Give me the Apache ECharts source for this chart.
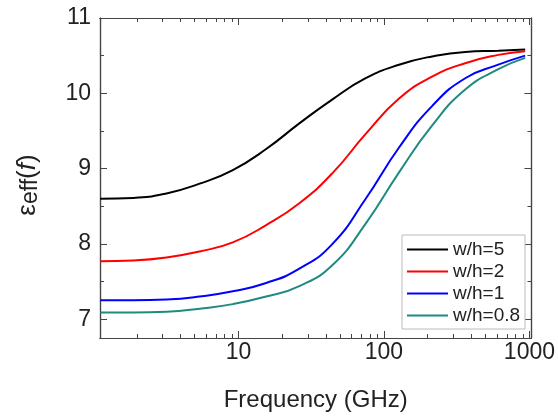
<!DOCTYPE html>
<html>
<head>
<meta charset="utf-8">
<script src="https://cdn.jsdelivr.net/npm/echarts@6/dist/echarts.min.js"></script>
<style>
  html, body { margin: 0; padding: 0; background: #fff; }
  #chart { width: 558px; height: 419px; }
</style>
</head>
<body>
<div id="chart"></div>
<script>
// frequency samples (GHz)
const freqGHz = [1.12, 1.89, 3.2, 5.41, 9.14, 15.5, 26.2, 44.3, 74.9, 127, 214, 362, 611, 935]

// effective permittivity for each w/h
const epsWh5 = [8.60, 8.61, 8.67, 8.80, 8.98, 9.26, 9.60, 9.92, 10.20, 10.38, 10.49, 10.55, 10.565, 10.58]
const epsWh2 = [7.77, 7.78, 7.82, 7.90, 8.02, 8.25, 8.54, 8.94, 9.46, 9.93, 10.22, 10.40, 10.51, 10.56]
const epsWh1 = [7.25, 7.25, 7.26, 7.30, 7.37, 7.48, 7.67, 8.00, 8.60, 9.28, 9.83, 10.20, 10.38, 10.50]
const epsWh08 = [7.09, 7.09, 7.10, 7.14, 7.20, 7.30, 7.44, 7.72, 8.27, 8.95, 9.57, 10.05, 10.32, 10.47]

const seriesNames = ['w/h=5', 'w/h=2', 'w/h=1', 'w/h=0.8']
const seriesColors = ['#000000', '#ff0000', '#0000ff', '#1f8a80']

// tick labels
const xTickLabels = [10, 100, 1000]
const yTickLabels = [7, 8, 9, 10, 11]
const yMinorTicks = [7.5, 8.5, 9.5, 10.5]

// log axis range (exponents)
const xMin = 0.048
const xMax = 3.014

const xMajor = xTickLabels.map(v => Math.log10(v))
const xMinor = []
for (let d = 0; d < 3; d++) {
  for (let k = 2; k <= 9; k++) {
    const v = Math.log10(k * Math.pow(10, d))
    if (v > xMin && v < xMax) xMinor.push(v)
  }
}

const lineColor = '#444'
const textColor = '#222'
const fontFamily = 'Liberation Sans, Arial, sans-serif'

function xAxisDef(pos, ticks, len, labels) {
  return {
    type: 'value',
    position: pos,
    min: xMin,
    max: xMax,
    axisLine: { show: true, onZero: false, lineStyle: { color: lineColor, width: 1.2 } },
    axisTick: { show: true, inside: true, length: len, customValues: ticks, lineStyle: { color: lineColor } },
    axisLabel: labels
      ? {
          show: true,
          customValues: xMajor,
          margin: 3,
          color: textColor,
          fontSize: 23,
          fontFamily: fontFamily,
          formatter: v => String(Math.round(Math.pow(10, v)))
        }
      : { show: false },
    splitLine: { show: false }
  }
}

function yAxisDef(pos, ticks, len, labels) {
  return {
    type: 'value',
    position: pos,
    min: 6.75,
    max: 11,
    axisLine: { show: true, onZero: false, lineStyle: { color: lineColor, width: 1.2 } },
    axisTick: { show: true, inside: true, length: len, customValues: ticks, lineStyle: { color: lineColor } },
    axisLabel: labels
      ? {
          show: true,
          customValues: yTickLabels,
          margin: 9,
          color: textColor,
          fontSize: 23,
          fontFamily: fontFamily
        }
      : { show: false },
    splitLine: { show: false }
  }
}

const xAxes = [
  xAxisDef('bottom', xMajor, 7, true),
  xAxisDef('bottom', xMinor, 4, false),
  xAxisDef('top', xMajor, 7, false),
  xAxisDef('top', xMinor, 4, false)
]
xAxes[0].name = 'Frequency (GHz)'
xAxes[0].nameLocation = 'middle'
xAxes[0].nameGap = 50
xAxes[0].nameTextStyle = { color: textColor, fontSize: 24, fontFamily: fontFamily }

const yAxes = [
  yAxisDef('left', yTickLabels, 7, true),
  yAxisDef('left', yMinorTicks, 4, false),
  yAxisDef('right', yTickLabels, 7, false),
  yAxisDef('right', yMinorTicks, 4, false)
]
yAxes[0].name = '{e|ε}{s|eff}{p|(}{i|f}{p|)}'
yAxes[0].nameLocation = 'middle'
yAxes[0].nameGap = 58
yAxes[0].nameRotate = 90
yAxes[0].nameTextStyle = {
  color: textColor,
  fontFamily: fontFamily,
  padding: [0, 14, 0, 0],
  rich: {
    e: { fontSize: 26, color: textColor, fontFamily: fontFamily },
    s: { fontSize: 23, color: textColor, fontFamily: fontFamily, padding: [5, 0, 0, 0] },
    p: { fontSize: 26, color: textColor, fontFamily: fontFamily },
    i: { fontSize: 26, color: textColor, fontFamily: fontFamily, fontStyle: 'italic' }
  }
}

const allEps = [epsWh5, epsWh2, epsWh1, epsWh08]

const series = allEps.map((vals, i) => ({
  name: seriesNames[i],
  type: 'line',
  xAxisIndex: 0,
  yAxisIndex: 0,
  symbol: 'none',
  smooth: 0.5,
  lineStyle: { color: seriesColors[i], width: 2 },
  itemStyle: { color: seriesColors[i] },
  data: freqGHz.map((f, j) => [Math.log10(f), vals[j]])
}))

const chart = echarts.init(document.getElementById('chart'))
chart.setOption({
  animation: false,
  backgroundColor: '#fff',
  grid: { left: 100, right: 25, top: 18, bottom: 81 },
  xAxis: xAxes,
  yAxis: yAxes,
  legend: {
    orient: 'vertical',
    left: 402,
    top: 235,
    icon: 'rect',
    itemWidth: 41,
    itemHeight: 2,
    itemGap: 3,
    padding: [5, 4, 4, 5],
    borderColor: '#bbb',
    borderWidth: 1,
    borderRadius: 0,
    backgroundColor: '#fff',
    textStyle: { color: textColor, fontSize: 19, lineHeight: 19, width: 68, fontFamily: fontFamily },
    data: seriesNames
  },
  series: series
})
</script>
</body>
</html>
